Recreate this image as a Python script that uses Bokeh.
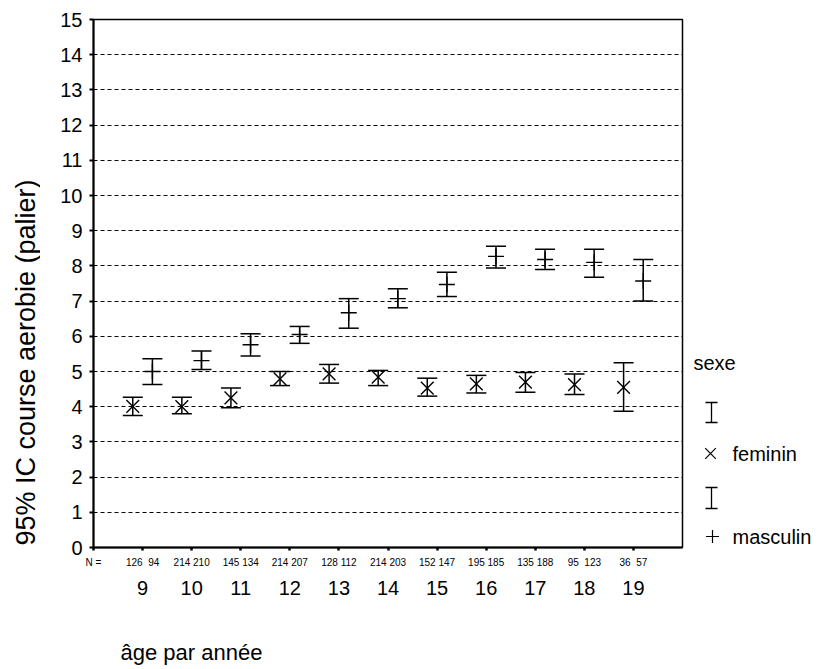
import math
from bokeh.plotting import figure
from bokeh.models import (ColumnDataSource, Whisker, TeeHead, FixedTicker, LinearAxis,
                          Range1d, Grid)
from bokeh.layouts import row, column
from bokeh.embed import file_html
from bokeh.resources import INLINE
from bokeh.core.properties import value

# ---------------- data ----------------
ages = [9, 10, 11, 12, 13, 14, 15, 16, 17, 18, 19]
n_fem = [126, 214, 145, 214, 128, 214, 152, 195, 135, 95, 36]
n_masc = [94, 210, 134, 207, 112, 203, 147, 185, 188, 123, 57]

fem_mean = [4.01, 4.00, 4.25, 4.79, 4.93, 4.84, 4.53, 4.65, 4.70, 4.63, 4.55]
fem_low = [3.75, 3.80, 3.97, 4.60, 4.67, 4.60, 4.30, 4.39, 4.41, 4.35, 3.87]
fem_high = [4.27, 4.27, 4.53, 5.00, 5.20, 5.03, 4.81, 4.89, 4.97, 4.93, 5.25]

masc_mean = [5.00, 5.31, 5.76, 6.05, 6.67, 7.07, 7.47, 8.27, 8.18, 8.10, 7.57]
masc_low = [4.63, 5.06, 5.44, 5.80, 6.23, 6.81, 7.13, 7.94, 7.90, 7.68, 7.00]
masc_high = [5.36, 5.58, 6.07, 6.28, 7.07, 7.35, 7.82, 8.56, 8.47, 8.47, 8.18]

y_ticks = list(range(0, 16))
y_title = "95% IC course aerobie (palier)"
x_title = "âge par année"
n_prefix = "N ="
legend_title = "sexe"
legend_labels = ["feminin", "masculin"]

FONT = "Liberation Sans"
DODGE = 0.2
X0, X1 = 8, 20

# ---------------- geometry (page pixels) ----------------
YLAB_W = 40
FRAME_L, FRAME_T, FRAME_W, FRAME_H = 93, 19, 589, 528
FRAME_B = FRAME_T + FRAME_H
BORDER_R, BORDER_B = 5, 62
MAIN_H = FRAME_T + FRAME_H + BORDER_B
MAIN_R = FRAME_L + FRAME_W + BORDER_R
LEG_W = 130
XLAB_H = 56

# ---------------- sources ----------------
src_f = ColumnDataSource(dict(x=[a - DODGE for a in ages], m=fem_mean, lo=fem_low, hi=fem_high))
src_m = ColumnDataSource(dict(x=[a + DODGE for a in ages], m=masc_mean, lo=masc_low, hi=masc_high))

# ---------------- main figure ----------------
p = figure(frame_width=FRAME_W, frame_height=FRAME_H, x_range=Range1d(X0, X1), y_range=Range1d(0, 15),
           toolbar_location=None, output_backend="svg",
           min_border_left=FRAME_L - YLAB_W, min_border_right=BORDER_R,
           min_border_top=FRAME_T, min_border_bottom=BORDER_B,
           x_axis_type=None, y_axis_type=None)
p.outline_line_color = "black"
p.outline_line_width = 1.5
p.background_fill_color = "white"
p.border_fill_color = "white"

# y axis
yax = LinearAxis(ticker=FixedTicker(ticks=y_ticks))
yax.axis_line_width = 2
yax.major_tick_out = 4
yax.major_tick_in = 0
yax.major_tick_line_width = 2
yax.minor_tick_out = 0
yax.minor_tick_in = 0
yax.major_label_text_font = FONT
yax.major_label_text_font_size = "20px"
yax.major_label_text_color = "black"
yax.major_label_standoff = 7
p.add_layout(yax, "left")

# x axis with N counts ("N =" sits at the left corner)
n_labels = {X0: n_prefix}
for a, f, m in zip(ages, n_fem, n_masc):
    sep = "\u00a0\u00a0" if (f < 100 or m < 100) else " "
    n_labels[a] = f"{f}{sep}{m}"
xax = LinearAxis(ticker=FixedTicker(ticks=[X0] + ages), major_label_overrides=n_labels)
xax.axis_line_width = 2
xax.major_tick_out = 3
xax.major_tick_in = 0
xax.major_tick_line_width = 2.5
xax.minor_tick_out = 0
xax.minor_tick_in = 0
xax.major_label_text_font = FONT
xax.major_label_text_font_size = "10px"
xax.major_label_text_color = "black"
xax.major_label_standoff = 6
p.add_layout(xax, "below")

# x axis with age categories
xax2 = LinearAxis(ticker=FixedTicker(ticks=ages),
                  major_label_overrides={a: str(a) for a in ages})
xax2.axis_line_color = None
xax2.major_tick_line_color = None
xax2.minor_tick_line_color = None
xax2.major_tick_out = 0
xax2.major_label_text_font = FONT
xax2.major_label_text_font_size = "20px"
xax2.major_label_text_color = "black"
xax2.major_label_standoff = 10
p.add_layout(xax2, "below")

# grid
grid = Grid(dimension=1, ticker=FixedTicker(ticks=y_ticks[1:-1]),
            grid_line_color="black", grid_line_dash="4 3", grid_line_width=1)
p.add_layout(grid)

# error bars
for src in (src_f, src_m):
    w = Whisker(source=src, base="x", lower="lo", upper="hi", dimension="height",
                line_color="black", line_width=1.5,
                upper_head=TeeHead(size=20, line_color="black", line_width=1.5),
                lower_head=TeeHead(size=20, line_color="black", line_width=1.5))
    p.add_layout(w)

p.scatter("x", "m", source=src_f, marker="x", size=18, line_color="black", line_width=1.4)
p.scatter("x", "m", source=src_m, marker="cross", size=16, line_color="black", line_width=1.4)


def blank(width, height, xr, yr, **kw):
    f = figure(width=width, height=height, x_range=Range1d(*xr), y_range=Range1d(*yr),
               toolbar_location=None, output_backend="svg", x_axis_type=None, y_axis_type=None, **kw)
    f.outline_line_color = None
    f.background_fill_color = "white"
    f.border_fill_color = "white"
    return f


# ---------------- y title strip (page coordinates, frame matched to main frame) ----------------
yl = blank(YLAB_W, MAIN_H, (0, YLAB_W), (FRAME_B, FRAME_T),
           min_border_left=0, min_border_right=0, min_border_top=FRAME_T, min_border_bottom=BORDER_B)
yl.text(x=[25], y=[362], text=[y_title], angle=math.pi / 2, text_font=value(FONT),
        text_font_size="27px", text_align="center", text_baseline="middle", text_color="black")

# ---------------- legend strip (page coordinates, frame matched to main frame) ----------------
lg = blank(LEG_W, MAIN_H, (MAIN_R, MAIN_R + LEG_W), (FRAME_B, FRAME_T),
           min_border_left=0, min_border_right=0, min_border_top=FRAME_T, min_border_bottom=BORDER_B)
lg.text(x=[693], y=[362], text=[legend_title], text_font=value(FONT), text_font_size="20px",
        text_align="left", text_baseline="middle", text_color="black")
bar_x = [711, 711]
bar_top = [402, 487]
bar_bot = [422, 508]
lg.segment(x0=bar_x, y0=bar_top, x1=bar_x, y1=bar_bot, line_color="black", line_width=1.3)
lg.segment(x0=[x - 6 for x in bar_x] * 2, y0=bar_top + bar_bot,
           x1=[x + 6 for x in bar_x] * 2, y1=bar_top + bar_bot, line_color="black", line_width=1.3)
lg.scatter(x=[710], y=[453], marker="x", size=15, line_color="black", line_width=1.2)
lg.scatter(x=[712], y=[536], marker="cross", size=13, line_color="black", line_width=1.2)
lg.text(x=[732, 732], y=[453, 536], text=legend_labels, text_font=value(FONT), text_font_size="20px",
        text_align="left", text_baseline="middle", text_color="black")

# ---------------- x title strip ----------------
xl = blank(300, XLAB_H, (0, 300), (MAIN_H + XLAB_H, MAIN_H), min_border=0)
xl.text(x=[120], y=[652], text=[x_title], text_font=value(FONT), text_font_size="22px",
        text_align="left", text_baseline="middle", text_color="black")

layout = column(row(yl, p, lg), xl)
open("out.html", "w").write(file_html(layout, INLINE))
